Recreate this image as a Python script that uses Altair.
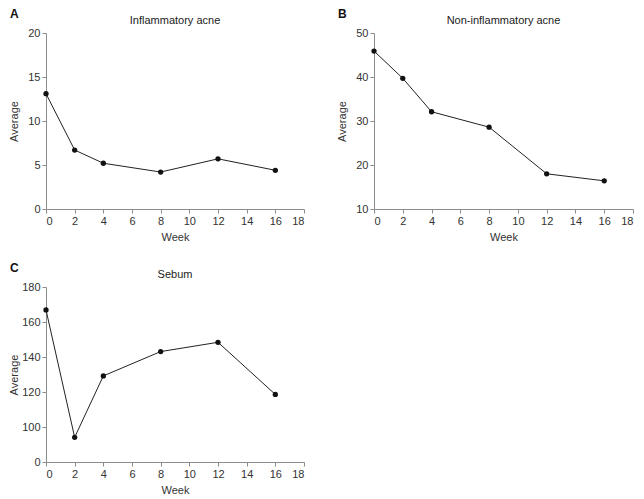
import altair as alt
import pandas as pd

weeks = [0, 2, 4, 8, 12, 16]
inflammatory = [13.1, 6.7, 5.2, 4.2, 5.7, 4.4]
non_inflammatory = [45.9, 39.7, 32.1, 28.6, 18.0, 16.4]
sebum = [166.9, 94.1, 129.2, 143.1, 148.4, 118.6]

x_ticks = [0, 2, 4, 6, 8, 10, 12, 14, 16, 18]
a_ticks = [0, 5, 10, 15, 20]
b_ticks = [10, 20, 30, 40, 50]
c_ticks = [80, 100, 120, 140, 160, 180]  # first tick shown as "0" (broken axis)

FONT = "Liberation Sans"
AXIS_COLOR = "#8c8c8c"
LABEL_COLOR = "#333333"


def panel(values, letter, heading, domain, ticks, label_expr=None, h=176, w=258):
    df = pd.DataFrame({"week": weeks, "avg": values})
    yax = dict(values=ticks, title="Average", titleX=-32, titleY=h / 2,
               titleAngle=-90, titleBaseline="middle", titleAlign="center")
    if label_expr:
        yax["labelExpr"] = label_expr
    x = alt.X("week:Q", scale=alt.Scale(domain=[0, 18], nice=False, zero=False),
              axis=alt.Axis(values=x_ticks, title="Week"))
    y = alt.Y("avg:Q", scale=alt.Scale(domain=domain, nice=False, zero=False),
              axis=alt.Axis(**yax))
    base = alt.Chart(df)
    line = base.mark_line(color="#222222", strokeWidth=1).encode(x=x, y=y)
    pts = base.mark_circle(color="#111111", size=28, opacity=1).encode(x=x, y=y)
    lab = alt.Chart(pd.DataFrame({"t": [letter]})).mark_text(
        fontWeight="bold", fontSize=12, align="left", baseline="middle",
        font=FONT, color="#111111"
    ).encode(text="t:N", x=alt.value(-36), y=alt.value(-19))
    head = alt.Chart(pd.DataFrame({"t": [heading]})).mark_text(
        fontSize=11, align="center", baseline="middle",
        font=FONT, color="#222222"
    ).encode(text="t:N", x=alt.value(w / 2), y=alt.value(-12))
    return alt.layer(line, pts, lab, head).properties(width=w, height=h)


pa = panel(inflammatory, "A", "Inflammatory acne", [0, 20], a_ticks)
pb = panel(non_inflammatory, "B", "Non-inflammatory acne", [10, 50], b_ticks, w=259)
pc = panel(sebum, "C", "Sebum", [80, 180], c_ticks,
           label_expr="datum.value == 80 ? '0' : datum.label", h=175)

chart = alt.concat(pa, pb, pc, columns=2, spacing={"row": 20, "column": 31}).properties(
    padding=0
).configure_axis(
    grid=False,
    domainColor=AXIS_COLOR,
    tickColor=AXIS_COLOR,
    tickSize=4,
    labelFont=FONT,
    labelFontSize=11,
    labelColor=LABEL_COLOR,
    labelPadding=2,
    titleFont=FONT,
    titleFontSize=11,
    titleFontWeight="normal",
    titleColor=LABEL_COLOR,
    titlePadding=5,
).configure_view(stroke=None)

chart.save("out.html", embed_options={"renderer": "svg", "actions": False})
